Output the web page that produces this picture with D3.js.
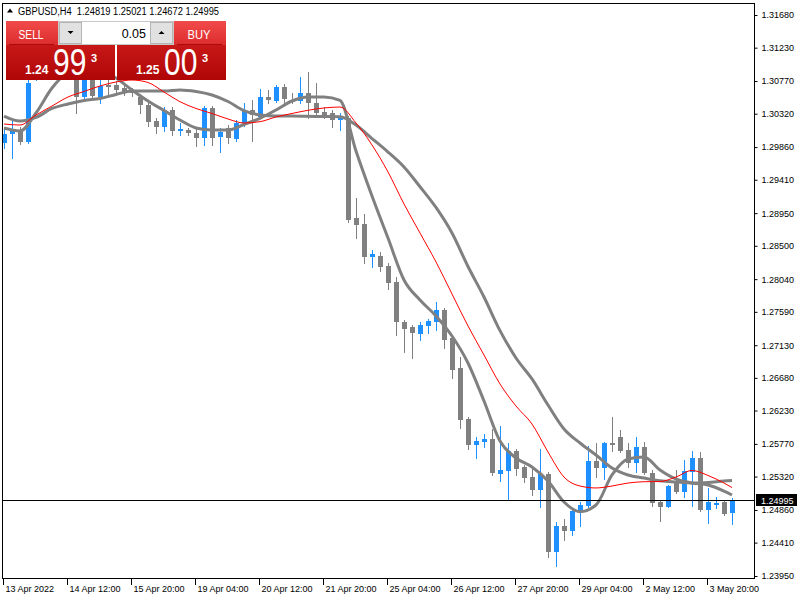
<!DOCTYPE html>
<html><head><meta charset="utf-8">
<script src="https://cdn.jsdelivr.net/npm/d3@7"></script>
<style>
body{margin:0;background:#fff}
svg{display:block}
text{font-family:"Liberation Sans",Arial,sans-serif}
</style>
</head><body>
<svg id="c" width="800" height="600"></svg>
<script>
const symbol = "GBPUSD,H4";
const opens = [1.29920,1.30040,1.30082,1.29934,1.30784,1.30977,1.30895,1.31060,1.30950,1.30840,
1.30554,1.30784,1.30554,1.30716,1.30716,1.30674,1.30637,1.30554,1.30440,1.30219,
1.30141,1.30371,1.30086,1.30095,1.30058,1.29981,1.30394,1.30003,1.30119,1.29971,
1.30188,1.30371,1.30279,1.30554,1.30499,1.30684,1.30509,1.30499,1.30601,1.30472,
1.30348,1.30330,1.30233,1.30257,1.28879,1.28796,1.28350,1.28363,1.28222,1.27997,
1.27446,1.27377,1.27285,1.27395,1.27454,1.27615,1.27225,1.26812,1.26109,1.25755,
1.25801,1.25838,1.25362,1.25397,1.25672,1.25452,1.25318,1.25135,1.25351,1.24285,
1.24639,1.24574,1.24828,1.24915,1.25535,1.25442,1.25787,1.25869,1.25686,1.25503,
1.25732,1.25365,1.24966,1.24905,1.25249,1.25112,1.25387,1.25572,1.24859,1.24932,
1.24966,1.24819];
const highs = [1.30123,1.30261,1.30141,1.30784,1.31060,1.31115,1.31170,1.31129,1.31032,1.30922,
1.30867,1.30840,1.30784,1.30784,1.30771,1.30729,1.30674,1.30592,1.30468,1.30261,
1.30417,1.30412,1.30192,1.30123,1.30141,1.30426,1.30426,1.30123,1.30164,1.30233,
1.30468,1.30509,1.30656,1.30647,1.30716,1.30729,1.30601,1.30830,1.30899,1.30743,
1.30417,1.30371,1.30330,1.30288,1.29154,1.28938,1.28442,1.28410,1.28259,1.28074,
1.27477,1.27409,1.27454,1.27491,1.27730,1.27643,1.27247,1.26964,1.26145,1.25869,
1.25907,1.25976,1.26017,1.25779,1.25700,1.25480,1.25442,1.25700,1.25387,1.24694,
1.24731,1.24859,1.24974,1.25741,1.25783,1.25801,1.26145,1.25962,1.25779,1.25869,
1.25801,1.25411,1.24997,1.25204,1.25411,1.25548,1.25672,1.25663,1.25158,1.25043,
1.24997,1.25021];
const lows = [1.29847,1.29714,1.29903,1.29916,1.30784,1.30812,1.30840,1.30867,1.30798,1.30330,
1.30509,1.30523,1.30472,1.30554,1.30605,1.30578,1.30564,1.30334,1.30151,1.30054,
1.30086,1.30027,1.30027,1.30027,1.29875,1.29889,1.29889,1.29796,1.29916,1.29944,
1.30151,1.29948,1.30261,1.30468,1.30485,1.30463,1.30463,1.30463,1.30257,1.30279,
1.30257,1.30141,1.30095,1.28824,1.28611,1.28267,1.28212,1.28153,1.27905,1.27271,
1.27041,1.26958,1.27202,1.27294,1.27340,1.27088,1.26674,1.25993,1.25696,1.25580,
1.25732,1.25342,1.25259,1.25011,1.25335,1.25249,1.25066,1.24905,1.24205,1.24092,
1.24446,1.24515,1.24639,1.24901,1.25318,1.25287,1.25672,1.25659,1.25456,1.25387,
1.25356,1.24915,1.24712,1.24901,1.25090,1.25043,1.24915,1.24846,1.24684,1.24891,
1.24791,1.24672];
const closes = [1.30040,1.30082,1.29934,1.30743,1.30977,1.30895,1.31060,1.30950,1.30867,1.30554,
1.30812,1.30564,1.30702,1.30692,1.30647,1.30619,1.30601,1.30440,1.30210,1.30141,
1.30357,1.30086,1.30109,1.30050,1.29981,1.30394,1.29981,1.30072,1.29981,1.30196,
1.30357,1.30302,1.30554,1.30509,1.30684,1.30518,1.30485,1.30601,1.30463,1.30326,
1.30279,1.30233,1.30275,1.28855,1.28786,1.28350,1.28383,1.28212,1.27991,1.27454,
1.27353,1.27294,1.27409,1.27468,1.27615,1.27202,1.26789,1.26100,1.25755,1.25810,
1.25838,1.25369,1.25411,1.25672,1.25424,1.25307,1.25135,1.25351,1.24285,1.24639,
1.24574,1.24846,1.24928,1.25535,1.25442,1.25779,1.25765,1.25672,1.25503,1.25732,
1.25365,1.24960,1.24905,1.25190,1.25112,1.25397,1.25572,1.24859,1.24966,1.24952,
1.24804,1.24995];

// moving averages at every second bar (and the last bar)
const maBars = [0,2,4,6,8,10,12,14,16,18,20,22,24,26,28,30,32,34,36,38,40,42,44,46,48,50,52,54,56,58,60,62,64,66,68,70,72,74,76,78,80,82,84,86,88,90,91];
const maFast = [1.30123,1.30082,1.30330,1.30674,1.30895,1.30977,1.30922,1.30812,1.30647,1.30495,1.30364,1.30233,1.30123,1.30095,1.30095,1.30171,1.30257,1.30371,1.30495,1.30550,1.30550,1.30502,1.29806,1.29186,1.28607,1.28029,1.27753,1.27533,1.27257,1.26885,1.26361,1.25810,1.25576,1.25452,1.25259,1.24970,1.24836,1.24928,1.25342,1.25562,1.25590,1.25411,1.25287,1.25231,1.25204,1.25121,1.25066];
const maSlow = [1.30288,1.30219,1.30268,1.30392,1.30454,1.30502,1.30530,1.30585,1.30633,1.30633,1.30633,1.30647,1.30626,1.30578,1.30488,1.30364,1.30302,1.30288,1.30288,1.30284,1.30281,1.30278,1.30164,1.29978,1.29792,1.29586,1.29314,1.29028,1.28676,1.28215,1.27794,1.27331,1.26954,1.26665,1.26306,1.25976,1.25783,1.25617,1.25438,1.25342,1.25300,1.25263,1.25245,1.25231,1.25238,1.25259,1.25266];
const maRed = [1.30178,1.30164,1.30302,1.30426,1.30550,1.30626,1.30702,1.30757,1.30784,1.30750,1.30619,1.30485,1.30392,1.30323,1.30247,1.30192,1.30210,1.30275,1.30323,1.30367,1.30399,1.30412,1.30192,1.29889,1.29517,1.29076,1.28676,1.28277,1.27836,1.27395,1.26995,1.26596,1.26292,1.26044,1.25659,1.25314,1.25190,1.25163,1.25190,1.25231,1.25249,1.25252,1.25314,1.25404,1.25335,1.25231,1.25169];

const priceTicks = ["1.31680","1.31230","1.30770","1.30320","1.29860","1.29410","1.28950","1.28500","1.28040","1.27590","1.27130","1.26680","1.26230","1.25770","1.25320","1.24860","1.24410","1.23950"];
const timeLabels = ["13 Apr 2022","14 Apr 12:00","15 Apr 20:00","19 Apr 04:00","20 Apr 12:00","21 Apr 20:00","25 Apr 04:00","26 Apr 12:00","27 Apr 20:00","29 Apr 04:00","2 May 12:00","3 May 20:00"];
const timeLabelBars = [0,8,16,24,32,40,48,56,64,72,80,88];
const lastPrice = "1.24995";
const bid = {big:"1.24", pips:"99", frac:"3"};
const ask = {big:"1.25", pips:"00", frac:"3"};
const lot = "0.05";

(function(){
const BULL = "#1e90ff", BEAR = "#808080";
const svg = d3.select("#c");
const PL = 2, PR = 754, PT = 3, PB = 578;

const x = d3.scaleLinear().domain([0, 91]).range([4, 732]);
const y = d3.scaleLinear().domain([+priceTicks[priceTicks.length-1], +priceTicks[0]]).range([576, 15]);

const defs = svg.append("defs");
defs.append("clipPath").attr("id","plot")
  .append("rect").attr("x",PL).attr("y",PT).attr("width",PR-PL).attr("height",PB-PT);

const plot = svg.append("g").attr("clip-path","url(#plot)");

// candles
const idx = d3.range(opens.length);
const cg = plot.append("g").attr("shape-rendering","crispEdges");
cg.selectAll("line.w").data(idx).join("line").attr("class","w")
  .attr("x1", i => Math.round(x(i)) + 0.5).attr("x2", i => Math.round(x(i)) + 0.5)
  .attr("y1", i => Math.round(y(highs[i]))).attr("y2", i => Math.round(y(lows[i])) + 1)
  .attr("stroke", i => closes[i] >= opens[i] ? BULL : BEAR).attr("stroke-width", 1);
cg.selectAll("rect.b").data(idx).join("rect").attr("class","b")
  .attr("x", i => Math.round(x(i)) - 2).attr("width", 5)
  .attr("y", i => Math.round(y(Math.max(opens[i], closes[i]))))
  .attr("height", i => Math.max(2, Math.round(y(Math.min(opens[i], closes[i]))) - Math.round(y(Math.max(opens[i], closes[i])))))
  .attr("fill", i => closes[i] >= opens[i] ? BULL : BEAR);

// moving averages
const line = d3.line().x((d,i) => x(maBars[i])).y(d => y(d)).curve(d3.curveMonotoneX);
plot.append("path").datum(maSlow).attr("d", line).attr("fill","none").attr("stroke","#808080").attr("stroke-width",3).attr("stroke-linejoin","round");
plot.append("path").datum(maFast).attr("d", line).attr("fill","none").attr("stroke","#808080").attr("stroke-width",3).attr("stroke-linejoin","round");
plot.append("path").datum(maRed).attr("d", line).attr("fill","none").attr("stroke","#ff0000").attr("stroke-width",1);

// bid line
const by = Math.round(y(+lastPrice)) + 0.5;
svg.append("line").attr("x1",PL).attr("x2",PR).attr("y1",by).attr("y2",by).attr("stroke","#000").attr("stroke-width",1);

// frame
svg.append("rect").attr("x",PL+0.5).attr("y",PT+0.5).attr("width",PR-PL).attr("height",PB-PT-0.5)
  .attr("fill","none").attr("stroke","#000").attr("stroke-width",1).attr("shape-rendering","crispEdges");

// right axis
const ay = svg.append("g").attr("transform",`translate(${PR+0.5},0)`);
const axisR = d3.axisRight(y).tickValues(priceTicks.map(Number)).tickFormat((d,i)=>priceTicks[i]).tickSize(3).tickPadding(4);
ay.call(axisR);
ay.select(".domain").remove();
ay.selectAll(".tick line").attr("stroke","#000");
ay.selectAll(".tick text").attr("font-size","9px").attr("fill","#000").attr("font-family","Liberation Sans, Arial, sans-serif");

// last price tag
svg.append("rect").attr("x",756).attr("y",by-6.5).attr("width",41).attr("height",12).attr("fill","#000");
svg.append("text").attr("x",761).attr("y",by).attr("dy","0.35em").attr("font-size","9px").attr("fill","#fff").text(lastPrice);

// time axis
const tg = svg.append("g");
timeLabelBars.forEach((b, i) => {
  const tx = Math.round(x(b)) - 1 + 0.5;
  tg.append("line").attr("x1",tx).attr("x2",tx).attr("y1",PB).attr("y2",PB+7).attr("stroke","#000");
  tg.append("text").attr("x",tx+2).attr("y",PB+14).attr("font-size","9px").attr("fill","#000").text(timeLabels[i]);
});

// header
svg.append("path").attr("d","M7,12.5 L13,12.5 L10,8.5 Z").attr("fill","#000");
svg.append("text").attr("x",18).attr("y",14.5).attr("font-size","10px").attr("fill","#000")
  .attr("xml:space","preserve").style("white-space","pre")
  .attr("textLength",201).attr("lengthAdjust","spacingAndGlyphs")
  .text(`${symbol}  ${opens[opens.length-1].toFixed(5)} ${highs[highs.length-1].toFixed(5)} ${lows[lows.length-1].toFixed(5)} ${closes[closes.length-1].toFixed(5)}`);

// one-click trading panel
const g1 = defs.append("linearGradient").attr("id","gTop").attr("x1",0).attr("y1",0).attr("x2",0).attr("y2",1);
g1.append("stop").attr("offset","0%").attr("stop-color","#f24b4b");
g1.append("stop").attr("offset","100%").attr("stop-color","#dc2c2c");
const g2 = defs.append("linearGradient").attr("id","gBot").attr("x1",0).attr("y1",0).attr("x2",0).attr("y2",1);
g2.append("stop").attr("offset","0%").attr("stop-color","#d82424");
g2.append("stop").attr("offset","100%").attr("stop-color","#b00606");

const p = svg.append("g");
p.append("rect").attr("x",6).attr("y",21).attr("width",109).attr("height",59).attr("fill","url(#gBot)");
p.append("rect").attr("x",117).attr("y",21).attr("width",109).attr("height",59).attr("fill","url(#gBot)");
p.append("rect").attr("x",6).attr("y",21).attr("width",52).attr("height",24).attr("fill","url(#gTop)");
p.append("rect").attr("x",174).attr("y",21).attr("width",52).attr("height",24).attr("fill","url(#gTop)");
p.append("line").attr("x1",9).attr("x2",54).attr("y1",44.5).attr("y2",44.5).attr("stroke","#a80c0c");
p.append("line").attr("x1",177).attr("x2",222).attr("y1",44.5).attr("y2",44.5).attr("stroke","#a80c0c");
// lot selector
p.append("rect").attr("x",58.5).attr("y",21.5).attr("width",115).attr("height",23).attr("fill","#fff").attr("stroke","#c8c8c8");
p.append("rect").attr("x",59.5).attr("y",22.5).attr("width",22).attr("height",21).attr("fill","#e1e1e1").attr("stroke","#b4b4b4");
p.append("rect").attr("x",150.5).attr("y",22.5).attr("width",22).attr("height",21).attr("fill","#e1e1e1").attr("stroke","#b4b4b4");
p.append("path").attr("d","M67.5,31 L73.5,31 L70.5,34 Z").attr("fill","#000");
p.append("path").attr("d","M158.5,34 L164.5,34 L161.5,31 Z").attr("fill","#000");
p.append("text").attr("x",146).attr("y",37.5).attr("text-anchor","end").attr("font-size","12.5px").attr("fill","#000").text(lot);
p.append("text").attr("x",31).attr("y",38.5).attr("text-anchor","middle").attr("font-size","12px").attr("fill","#fff")
  .attr("textLength",25).attr("lengthAdjust","spacingAndGlyphs").text("SELL");
p.append("text").attr("x",199).attr("y",38.5).attr("text-anchor","middle").attr("font-size","12px").attr("fill","#fff")
  .attr("textLength",23).attr("lengthAdjust","spacingAndGlyphs").text("BUY");
function priceBlock(x0, q){
  p.append("text").attr("x",x0).attr("y",74).attr("font-size","12px").attr("font-weight","bold").attr("fill","#fff").text(q.big);
  p.append("text").attr("transform",`translate(${x0+28},75) scale(1,1.23)`).attr("font-size","30px").attr("fill","#fff")
    .text(q.pips);
  p.append("text").attr("x",x0+66).attr("y",61.5).attr("font-size","11px").attr("font-weight","bold").attr("fill","#fff").text(q.frac);
}
priceBlock(25, bid);
priceBlock(136, ask);
})();
</script>
</body></html>
